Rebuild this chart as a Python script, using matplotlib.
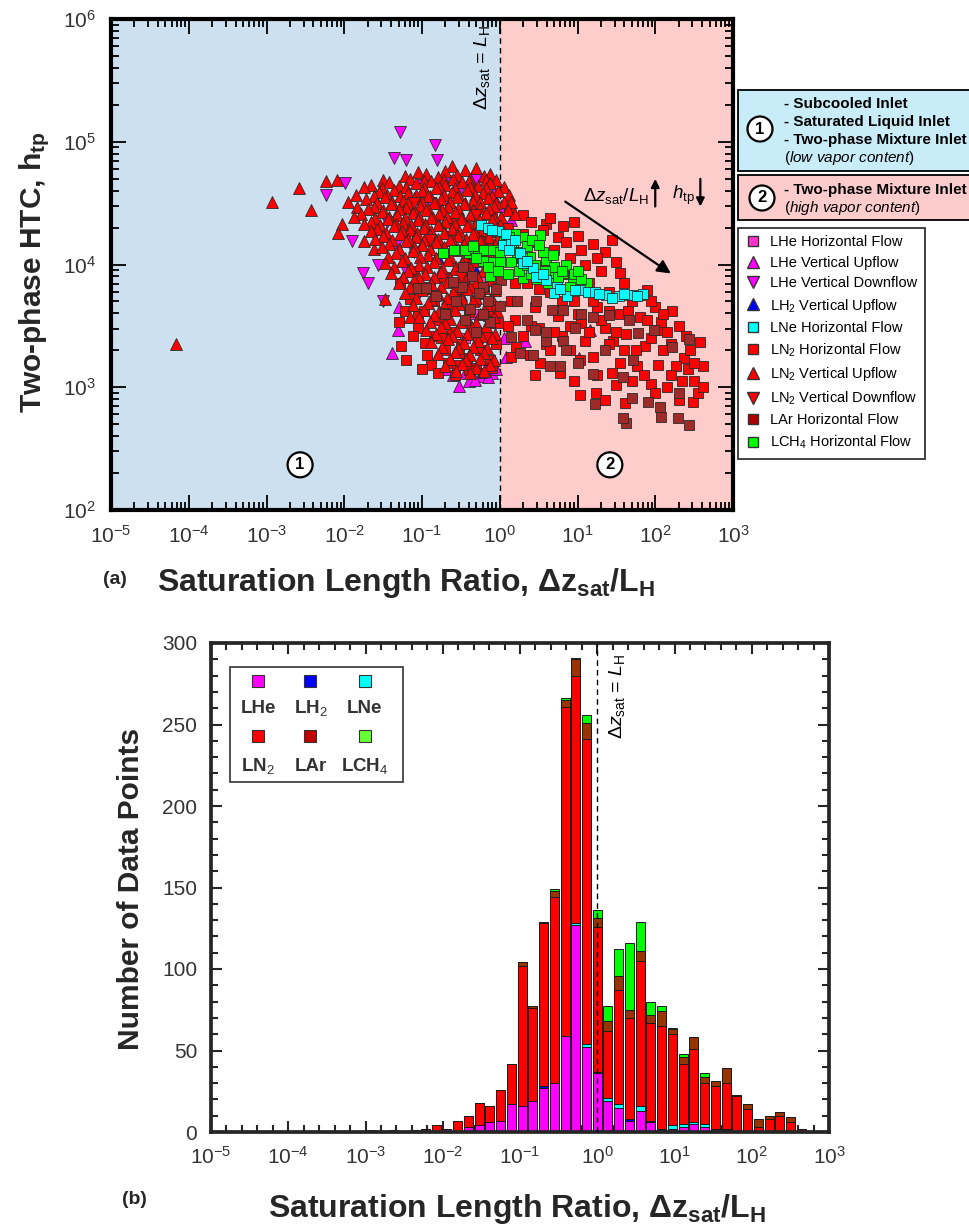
import numpy as np
import matplotlib
matplotlib.use("Agg")
import matplotlib.pyplot as plt
from matplotlib.patches import Rectangle
from matplotlib.lines import Line2D
from matplotlib.ticker import LogLocator, FixedLocator, MultipleLocator, NullFormatter

plt.rcParams['font.family'] = ['Liberation Sans', 'DejaVu Sans']
plt.rcParams['mathtext.fontset'] = 'custom'
plt.rcParams['mathtext.rm'] = 'Liberation Sans'
plt.rcParams['mathtext.it'] = 'Liberation Sans:italic'
plt.rcParams['mathtext.bf'] = 'Liberation Sans:bold'

# ---------------- (a) scatter data, (log10 x, log10 htc) ----------------
lhe_h = [(-0.35, 3.60), (-0.55, 3.85), (-0.20, 3.90), (-0.45, 3.40)]

lhe_up = [(-0.52, 3.01), (-0.40, 3.05), (-0.25, 3.09), (-1.38, 3.28), (-1.31, 3.47),
          (1.16, 3.47), (1.02, 3.24), (0.32, 3.38), (0.15, 4.36), (-0.04, 4.50),
          (-0.17, 3.17), (-0.10, 3.12), (-0.05, 3.15), (-0.60, 3.10), (-0.32, 3.06),
          (-1.30, 3.65), (-1.25, 3.90), (0.02, 4.48), (-0.15, 3.08), (-0.70, 3.15),
          (-0.45, 3.12), (0.08, 3.25), (0.35, 4.05), (-0.08, 4.60), (0.05, 3.40)]

lhe_down = [(-1.28, 5.08), (-0.83, 4.97), (-0.81, 4.85), (-1.36, 4.87), (-1.21, 4.85),
            (-2.23, 4.57), (-1.99, 4.66), (-1.90, 4.19), (-1.76, 3.93), (-1.69, 3.85),
            (-1.57, 4.00), (-1.33, 4.15), (-1.00, 4.65), (-0.70, 4.68), (-0.50, 4.62),
            (-1.45, 4.35), (-1.10, 4.10), (-1.60, 4.25), (-0.30, 4.70), (-0.90, 4.50),
            (-1.20, 3.95), (-1.50, 3.70), (-1.05, 3.75)]

lh2_up = [(-0.50, 3.75), (-0.30, 3.95), (-0.80, 4.05)]

lne_h = [(-0.24, 4.32), (-0.15, 4.30), (-0.04, 4.27), (-0.02, 4.27), (0.04, 4.16),
         (0.15, 4.18), (0.26, 4.09), (0.30, 4.01), (0.43, 3.97), (0.47, 3.90),
         (0.60, 3.87), (0.73, 3.82), (0.70, 3.77), (0.86, 3.74), (1.03, 3.79),
         (1.14, 3.78), (1.23, 3.78), (1.37, 3.75), (1.53, 3.74), (1.68, 3.75),
         (1.84, 3.76), (0.97, 3.79), (0.08, 4.25), (0.12, 4.12), (0.35, 4.03),
         (0.55, 3.92), (0.78, 3.80), (1.28, 3.76), (1.45, 3.73), (1.60, 3.76),
         (1.76, 3.74), (0.20, 4.20), (-0.10, 4.28)]

ln2_h = [(-1.28, 3.85), (-1.30, 3.53), (-1.27, 3.34), (-0.96, 3.36), (-0.67, 3.20),
         (-0.94, 3.26), (-1.15, 3.72), (-1.05, 3.48), (-0.98, 3.62), (-0.85, 3.42),
         (-0.78, 3.55), (-0.70, 3.30), (-0.62, 3.45), (-0.55, 3.18), (-0.50, 3.35),
         (-0.42, 3.24), (-0.36, 3.48), (-0.30, 3.16), (-0.25, 3.30), (-0.18, 3.42),
         (-0.12, 3.22), (-0.05, 3.35), (-0.02, 3.52), (-1.10, 3.95), (-0.90, 3.82),
         (-0.72, 3.90), (-0.58, 3.75), (-0.45, 3.88), (-0.32, 3.70), (-0.20, 3.82),
         (-0.08, 3.65), (-0.88, 3.18), (-0.80, 3.12), (-0.40, 3.14), (-0.58, 3.10),
         (-0.22, 3.12), (-0.10, 3.16), (-1.20, 3.22), (-1.12, 3.42), (-0.35, 4.05),
         (-0.15, 4.15), (-0.05, 3.95), (-0.25, 4.25), (-0.60, 4.35), (-0.10, 4.40),
         (-1.00, 3.15), (-0.75, 3.40), (-0.52, 3.28), (-0.28, 3.40), (-0.15, 3.58),
         (-0.40, 3.62), (-0.65, 3.66), (-0.85, 3.70), (-1.05, 3.60), (-1.22, 3.62),
         (0.12, 4.45), (0.60, 4.33), (0.81, 4.31), (1.00, 4.23), (1.20, 4.17),
         (1.55, 3.93), (1.89, 3.79), (2.21, 3.62), (2.58, 3.37), (2.61, 3.17),
         (2.37, 3.24), (2.27, 3.17), (2.04, 3.18), (2.15, 3.00), (2.31, 2.90),
         (2.49, 2.88), (1.03, 2.94), (1.24, 2.95), (1.61, 2.87), (1.94, 3.03),
         (1.76, 3.17), (1.46, 3.38), (1.63, 3.43), (1.87, 3.34), (2.02, 3.47),
         (2.08, 3.53), (1.80, 3.57), (1.03, 3.22), (0.77, 3.12), (0.52, 3.20),
         (0.21, 3.33), (0.39, 3.26), (0.30, 4.25), (0.45, 4.18), (0.70, 4.12),
         (0.90, 4.05), (1.10, 4.00), (1.30, 3.95), (0.25, 4.05), (0.55, 3.98),
         (0.85, 3.92), (1.15, 3.85), (1.40, 3.78), (1.70, 3.70), (2.00, 3.65),
         (0.35, 3.85), (0.65, 3.78), (0.95, 3.70), (1.25, 3.65), (1.55, 3.60),
         (0.15, 3.70), (0.45, 3.65), (0.75, 3.58), (1.05, 3.52), (1.35, 3.48),
         (0.20, 3.55), (0.50, 3.48), (0.80, 3.42), (1.10, 3.38), (1.60, 3.30),
         (0.30, 3.42), (0.60, 3.35), (0.90, 3.30), (1.20, 3.25), (1.45, 3.12),
         (1.70, 3.05), (2.20, 3.35), (2.40, 3.42), (0.05, 4.20), (0.30, 4.40),
         (0.55, 4.28), (0.75, 4.22), (1.35, 4.10), (1.45, 4.20), (0.95, 4.35),
         (1.25, 3.10), (0.95, 3.05), (2.50, 3.05), (2.42, 3.15), (2.55, 2.95),
         (2.10, 3.30), (1.95, 3.40), (0.10, 4.30), (0.40, 4.35), (0.65, 4.38),
         (0.85, 4.18), (1.05, 4.12), (1.25, 4.05), (1.50, 4.02), (1.60, 3.85),
         (1.80, 3.75), (1.95, 3.70), (2.10, 3.60), (2.30, 3.50), (2.45, 3.30),
         (2.35, 3.05), (2.20, 3.10), (2.00, 2.95), (1.85, 3.10), (1.55, 3.20),
         (1.40, 3.35), (1.15, 3.45), (0.90, 3.50), (0.70, 3.45), (0.40, 3.50),
         (0.10, 3.50), (0.15, 3.25), (0.45, 3.10), (0.65, 3.30), (1.30, 3.55),
         (1.50, 3.45), (1.75, 3.30), (2.15, 3.45), (1.90, 3.55), (1.65, 3.62),
         (1.20, 3.70), (0.80, 3.70), (0.50, 3.80), (0.20, 3.85), (1.00, 3.60),
         (1.40, 3.62), (2.50, 3.20), (2.62, 3.00), (1.35, 2.90), (1.50, 3.02)]

ln2_up = [(-4.16, 3.35), (-2.93, 4.51), (-2.58, 4.62), (-2.43, 4.44), (-2.24, 4.68),
          (-2.09, 4.69), (-2.03, 4.33), (-2.08, 4.26), (-1.84, 4.47), (-1.75, 4.19),
          (-1.62, 4.13), (-1.48, 3.72), (-1.15, 3.57),
          (-0.62, 4.80), (-0.45, 4.77), (-0.30, 4.79),
          (-1.05, 4.75), (-0.70, 4.76), (-0.12, 4.74),
          (-1.22, 4.72), (-0.95, 4.74), (-0.80, 4.71), (-0.55, 4.73), (-0.38, 4.70),
          (-0.20, 4.72), (-0.05, 4.69),
          (-1.50, 4.69), (-1.15, 4.70), (-0.98, 4.68), (-0.72, 4.69), (-0.60, 4.70),
          (-0.40, 4.68), (-0.18, 4.69),
          (-1.65, 4.65), (-1.42, 4.67), (-1.30, 4.64), (-1.08, 4.66), (-0.88, 4.68),
          (-0.70, 4.65), (-0.48, 4.67), (-0.28, 4.64), (-0.12, 4.66),
          (-1.75, 4.63), (-1.52, 4.62), (-1.20, 4.63), (-0.98, 4.62), (-0.78, 4.63),
          (-0.58, 4.62), (-0.38, 4.63), (-0.18, 4.62), (0.05, 4.63),
          (-1.55, 4.59), (-1.36, 4.61), (-1.18, 4.58), (-1.00, 4.60), (-0.82, 4.62),
          (-0.62, 4.59), (-0.42, 4.61), (-0.22, 4.58), (-0.02, 4.60), (0.12, 4.57),
          (-1.85, 4.57), (-1.62, 4.56), (-1.45, 4.57), (-1.28, 4.56), (-1.08, 4.57),
          (-0.90, 4.56), (-0.72, 4.57), (-0.52, 4.56), (-0.32, 4.57), (-0.10, 4.56),
          (-1.72, 4.53), (-1.48, 4.55), (-1.25, 4.52), (-1.10, 4.54), (-0.92, 4.56),
          (-0.75, 4.53), (-0.55, 4.55), (-0.35, 4.52), (-0.15, 4.54), (0.05, 4.51),
          (-1.95, 4.51), (-1.58, 4.50), (-1.38, 4.51), (-1.18, 4.50), (-1.00, 4.51),
          (-0.82, 4.50), (-0.64, 4.51), (-0.45, 4.50), (-0.25, 4.51), (-0.05, 4.50),
          (0.15, 4.51),
          (-1.62, 4.47), (-1.40, 4.49), (-1.20, 4.46), (-1.02, 4.48), (-0.85, 4.50),
          (-0.66, 4.47), (-0.46, 4.49), (-0.26, 4.46), (-0.08, 4.48),
          (-1.70, 4.45), (-1.50, 4.44), (-1.30, 4.45), (-1.10, 4.44), (-0.92, 4.45),
          (-0.74, 4.44), (-0.54, 4.45), (-0.34, 4.44), (-0.14, 4.45), (0.10, 4.44),
          (-1.78, 4.41), (-1.52, 4.43), (-1.32, 4.40), (-1.12, 4.42), (-0.95, 4.44),
          (-0.78, 4.41), (-0.58, 4.43), (-0.38, 4.40), (-0.18, 4.42), (0.02, 4.39),
          (0.20, 4.41),
          (-1.88, 4.39), (-1.60, 4.38), (-1.42, 4.39), (-1.22, 4.38), (-1.04, 4.39),
          (-0.86, 4.38), (-0.68, 4.39), (-0.48, 4.38), (-0.28, 4.39), (-0.08, 4.38),
          (-1.66, 4.35), (-1.44, 4.37), (-1.24, 4.34), (-1.05, 4.36), (-0.88, 4.38),
          (-0.70, 4.35), (-0.50, 4.37), (-0.30, 4.34), (-0.10, 4.36),
          (-1.74, 4.33), (-1.54, 4.32), (-1.34, 4.33), (-1.14, 4.32), (-0.96, 4.33),
          (-0.78, 4.32), (-0.58, 4.33), (-0.40, 4.32), (-0.20, 4.33), (0.00, 4.32),
          (-1.58, 4.29), (-1.36, 4.31), (-1.16, 4.28), (-0.98, 4.30), (-0.80, 4.32),
          (-0.62, 4.29), (-0.42, 4.31), (-0.22, 4.28), (-0.04, 4.30),
          (-1.66, 4.27), (-1.46, 4.26), (-1.26, 4.27), (-1.06, 4.26), (-0.88, 4.27),
          (-0.70, 4.26), (-0.52, 4.27), (-0.32, 4.26), (-0.12, 4.27),
          (-1.50, 4.23), (-1.28, 4.25), (-1.08, 4.22), (-0.90, 4.24), (-0.72, 4.26),
          (-0.54, 4.23), (-0.34, 4.25), (-0.14, 4.22),
          (-1.60, 4.21), (-1.38, 4.20), (-1.18, 4.21), (-0.98, 4.20), (-0.80, 4.21),
          (-0.62, 4.20), (-0.44, 4.21), (-0.24, 4.20), (-0.04, 4.21),
          (-1.42, 4.17), (-1.20, 4.19), (-1.00, 4.16), (-0.82, 4.18), (-0.64, 4.20),
          (-0.46, 4.17), (-0.26, 4.19), (-0.06, 4.16),
          (-1.52, 4.14), (-1.30, 4.13), (-1.10, 4.14), (-0.90, 4.13), (-0.72, 4.14),
          (-0.54, 4.13), (-0.36, 4.14), (-0.16, 4.13),
          (-1.34, 4.09), (-1.12, 4.11), (-0.92, 4.08), (-0.74, 4.10), (-0.56, 4.12),
          (-0.38, 4.09), (-0.18, 4.11),
          (-1.44, 4.06), (-1.22, 4.05), (-1.02, 4.06), (-0.82, 4.05), (-0.64, 4.06),
          (-0.46, 4.05), (-0.26, 4.06), (-0.06, 4.05),
          (-1.48, 4.01), (-1.26, 4.03), (-1.04, 4.00), (-0.84, 4.02), (-0.66, 4.04),
          (-0.48, 4.01), (-0.30, 4.03), (-0.10, 4.00),
          (-1.36, 3.98), (-1.14, 3.97), (-0.94, 3.98), (-0.74, 3.97), (-0.56, 3.98),
          (-0.38, 3.97), (-0.18, 3.98),
          (-1.40, 3.93), (-1.18, 3.95), (-0.96, 3.92), (-0.76, 3.94), (-0.58, 3.96),
          (-0.40, 3.93), (-0.22, 3.95),
          (-1.24, 3.90), (-1.04, 3.89), (-0.84, 3.90), (-0.64, 3.89), (-0.46, 3.90),
          (-0.28, 3.89), (-0.08, 3.90),
          (-1.30, 3.85), (-1.10, 3.87), (-0.88, 3.84), (-0.68, 3.86), (-0.50, 3.88),
          (-0.32, 3.85), (-0.14, 3.87),
          (-1.16, 3.82), (-0.96, 3.81), (-0.76, 3.82), (-0.56, 3.81), (-0.38, 3.82),
          (-0.20, 3.81),
          (-1.22, 3.77), (-1.00, 3.79), (-0.80, 3.76), (-0.60, 3.78), (-0.42, 3.80),
          (-0.24, 3.77), (-0.06, 3.79),
          (-1.08, 3.73), (-0.88, 3.72), (-0.68, 3.73), (-0.48, 3.72), (-0.30, 3.73),
          (-0.10, 3.72),
          (-1.12, 3.67), (-0.92, 3.69), (-0.72, 3.66), (-0.52, 3.68), (-0.34, 3.70),
          (-0.16, 3.67),
          (-0.98, 3.63), (-0.78, 3.62), (-0.58, 3.63), (-0.40, 3.62), (-0.20, 3.63),
          (-0.04, 3.62),
          (-1.04, 3.57), (-0.84, 3.59), (-0.64, 3.56), (-0.44, 3.58), (-0.26, 3.60),
          (-0.08, 3.57),
          (-0.90, 3.53), (-0.70, 3.52), (-0.50, 3.53), (-0.30, 3.52), (-0.12, 3.53),
          (-0.95, 3.47), (-0.75, 3.49), (-0.55, 3.46), (-0.36, 3.48), (-0.18, 3.50),
          (-0.82, 3.43), (-0.62, 3.42), (-0.42, 3.43), (-0.24, 3.42), (-0.06, 3.43),
          (-0.88, 3.37), (-0.66, 3.39), (-0.46, 3.36), (-0.28, 3.38), (-0.10, 3.40),
          (-0.74, 3.33), (-0.54, 3.32), (-0.34, 3.33), (-0.16, 3.32),
          (-0.80, 3.27), (-0.58, 3.29), (-0.38, 3.26), (-0.20, 3.28),
          (-0.64, 3.23), (-0.44, 3.22), (-0.26, 3.23), (-0.08, 3.22),
          (-0.70, 3.17), (-0.48, 3.19), (-0.30, 3.16), (-0.12, 3.18),
          (-0.56, 3.13), (-0.38, 3.12), (-0.20, 3.13)]

ln2_down = [(-0.90, 4.20), (-0.50, 3.90), (-0.30, 4.40), (-1.10, 4.50), (-0.70, 3.60)]

lar_h = [(2.43, 3.39), (2.21, 3.33), (2.43, 2.69), (2.29, 2.75), (2.06, 2.84),
         (2.07, 2.76), (1.91, 2.88), (1.70, 2.91), (1.62, 2.71), (1.59, 2.75),
         (1.23, 2.86), (1.20, 3.11), (1.59, 3.08), (1.71, 3.22), (1.98, 3.47),
         (1.78, 3.44), (1.66, 3.55), (1.41, 3.59), (1.20, 3.57), (1.05, 3.60),
         (0.97, 3.48), (0.81, 3.38), (0.85, 3.30), (0.65, 3.17), (0.77, 3.17),
         (0.60, 3.38), (0.60, 3.45), (0.45, 3.47), (0.26, 3.28), (0.43, 3.26),
         (0.15, 3.41), (0.00, 3.66), (0.02, 3.87), (0.22, 3.70), (0.47, 3.70),
         (0.67, 3.63), (0.81, 3.63), (-0.22, 3.82), (-0.13, 3.53), (-0.47, 3.98),
         (-0.36, 3.91), (-1.05, 3.81), (-0.95, 3.81), (-0.82, 3.74), (-0.56, 3.70),
         (-0.38, 3.64), (-0.22, 3.60), (-0.27, 3.77), (-0.49, 3.82), (-0.60, 3.86),
         (-0.70, 3.60), (-0.45, 3.55), (-0.30, 3.45), (-0.15, 3.70), (-0.05, 3.80),
         (0.35, 3.55), (1.00, 3.20), (1.35, 3.30), (2.30, 2.95)]

lch4_h = [(-0.73, 4.09), (-0.59, 4.12), (-0.40, 4.09), (-0.28, 4.12), (-0.20, 4.12),
          (-0.22, 4.03), (-0.09, 4.02), (-0.13, 3.91), (0.30, 4.22), (0.52, 4.24),
          (0.17, 4.14), (-0.09, 4.12), (0.00, 4.02), (0.15, 4.02), (0.39, 4.06),
          (0.60, 4.04), (0.65, 3.93), (0.81, 3.93), (0.94, 3.87), (1.12, 3.85),
          (0.30, 3.89), (0.43, 3.93), (0.05, 4.18), (0.22, 4.10), (0.35, 4.15),
          (0.45, 4.00), (0.55, 4.10), (0.70, 3.98), (0.85, 4.00), (0.75, 3.90),
          (0.95, 3.92), (1.05, 3.88), (0.62, 3.85), (0.40, 3.92), (0.25, 3.95),
          (0.10, 3.92), (-0.02, 3.95), (-0.30, 4.05), (-0.45, 4.12), (0.42, 4.20),
          (0.20, 4.25), (0.00, 4.10), (0.12, 4.22), (0.28, 4.05), (0.50, 4.16),
          (0.58, 3.95), (0.68, 4.08), (0.80, 3.95), (0.90, 3.82), (1.00, 3.95),
          (0.35, 4.00), (-0.15, 3.98), (-0.35, 4.15), (0.48, 3.88)]

# ---------------- (b) histogram data ----------------
bin_width = 0.139                               # bin width in decades
bin_index = np.arange(-21, 21)                  # bin 0 is centred on 10^0
hist_lhe = [0, 0, 0, 0, 0, 0, 0, 2, 0, 3, 4, 6, 7, 17, 16, 19, 27, 30, 59, 127, 52,
            36, 19, 15, 7, 13, 6, 1, 2, 3, 5, 3, 1, 1, 0, 0, 0, 0, 0, 0, 0, 0]
hist_lh2 = [0, 0, 0, 0, 0, 0, 0, 0, 0, 0, 0, 0, 0, 0, 0, 0, 1, 0, 0, 0, 0,
            0, 0, 0, 1, 0, 0, 0, 0, 0, 0, 0, 0, 0, 0, 0, 0, 0, 0, 0, 0, 0]
hist_lne = [0, 0, 0, 0, 0, 0, 0, 0, 0, 0, 0, 0, 0, 0, 0, 0, 0, 0, 0, 1, 2,
            1, 2, 2, 0, 3, 1, 1, 2, 2, 1, 2, 1, 1, 0, 0, 0, 0, 0, 0, 0, 0]
hist_ln2 = [1, 0, 1, 0, 1, 2, 4, 0, 7, 7, 14, 10, 19, 25, 86, 57, 100, 114, 202, 152, 187,
            89, 41, 70, 62, 89, 60, 63, 56, 37, 45, 25, 26, 28, 22, 14, 3, 8, 10, 6, 2, 0]
hist_lar = [0, 0, 0, 0, 0, 0, 0, 0, 0, 0, 0, 0, 0, 0, 2, 1, 0, 4, 4, 10, 10,
            5, 6, 9, 5, 6, 5, 9, 3, 4, 7, 4, 3, 9, 1, 3, 5, 2, 2, 3, 0, 0]
hist_lch4 = [0, 0, 0, 0, 0, 0, 0, 0, 0, 0, 0, 0, 0, 0, 0, 0, 1, 1, 1, 1, 5,
             5, 9, 16, 41, 18, 8, 3, 1, 2, 0, 2, 0, 0, 0, 0, 0, 0, 0, 0, 0, 0]

W, H = 969, 1225
fig = plt.figure(figsize=(W / 100, H / 100), dpi=100)


def fx(px):
    return px / W


def fy(py):
    return 1 - py / H


# ======================= panel (a) =======================
ax1 = fig.add_axes([fx(111), fy(510), fx(733) - fx(111), fy(19) - fy(510)])
ax1.set_xscale('log')
ax1.set_yscale('log')
ax1.set_xlim(1e-5, 1e3)
ax1.set_ylim(1e2, 1e6)
ax1.axvspan(1e-5, 1, color='#cce0f0', zorder=0, lw=0)
ax1.axvspan(1, 1e3, color='#ffcccc', zorder=0, lw=0)
ax1.axvline(1, color='k', ls=(0, (4, 3)), lw=1.0, zorder=1)

series = [
    (lhe_h, 's', '#ff33cc', 7),
    (lhe_up, '^', '#ff00ff', 8.5),
    (lhe_down, 'v', '#ff00ff', 8.5),
    (lh2_up, '^', '#0000ff', 8.5),
    (ln2_h, 's', '#ff0000', 7),
    (ln2_up, '^', '#ff0000', 8.5),
    (ln2_down, 'v', '#ff0000', 8.5),
    (lar_h, 's', '#9e2a2a', 7),
    (lch4_h, 's', '#00ff00', 7),
    (lne_h, 's', '#00ffff', 7),
]
for pts, mk, col, ms in series:
    lx, ly = zip(*pts)
    ax1.plot(10 ** np.array(lx), 10 ** np.array(ly), ls='none', marker=mk, ms=ms,
             mfc=col, mec='#2a2a2a', mew=0.6, zorder=3)

ax1.xaxis.set_major_locator(LogLocator(base=10, numticks=20))
ax1.xaxis.set_minor_locator(LogLocator(base=10, subs=np.arange(2, 10), numticks=20))
ax1.xaxis.set_minor_formatter(NullFormatter())
ax1.yaxis.set_minor_locator(LogLocator(base=10, subs=np.arange(2, 10), numticks=20))
ax1.yaxis.set_minor_formatter(NullFormatter())
ax1.tick_params(which='both', direction='in', top=True, right=True, labelsize=15,
                labelcolor='#333333', width=1.3)
ax1.tick_params(which='major', length=11, pad=11)
ax1.tick_params(which='minor', length=6)
for s in ax1.spines.values():
    s.set_linewidth(3)

ax1.set_xlabel(r'Saturation Length Ratio, $\mathbf{\Delta z_{sat}/L_H}$',
               fontsize=23, fontweight='bold', color='#262626')
ax1.xaxis.set_label_coords(0.475, -0.115)
ax1.set_ylabel(r'Two-phase HTC, $\mathbf{h_{tp}}$', fontsize=21.5, fontweight='bold',
               color='#262626')
ax1.yaxis.set_label_coords(-0.095, 0.484)

ax1.text(10 ** -0.23, 10 ** 5.61, r'$\Delta z_{\rm sat}$ = $L_{\rm H}$', rotation=90,
         ha='center', va='center', fontsize=14)
ax1.annotate('', xy=(170, 8.2e3), xytext=(6.5, 3.35e4),
             arrowprops=dict(arrowstyle='-|>', color='k', lw=1.6, mutation_scale=20))
ax1.text(10 ** 1.07, 10 ** 4.56, r'$\Delta z_{\rm sat}/L_{\rm H}$', fontsize=13.5,
         va='center', ha='left')
ax1.annotate('', xy=(10 ** 2.0, 10 ** 4.72), xytext=(10 ** 2.0, 10 ** 4.45),
             arrowprops=dict(arrowstyle='-|>', color='k', lw=1.6, mutation_scale=12))
ax1.text(10 ** 2.22, 10 ** 4.56, r'$h_{\rm tp}$', fontsize=13.5, va='center', ha='left')
ax1.annotate('', xy=(10 ** 2.58, 10 ** 4.45), xytext=(10 ** 2.58, 10 ** 4.72),
             arrowprops=dict(arrowstyle='-|>', color='k', lw=1.6, mutation_scale=12))

circ = dict(boxstyle='circle,pad=0.3', fc='white', ec='k', lw=1.6)
ax1.text(0.304, 0.092, '1', transform=ax1.transAxes, ha='center', va='center',
         fontsize=12, fontweight='bold', bbox=circ)
ax1.text(0.802, 0.092, '2', transform=ax1.transAxes, ha='center', va='center',
         fontsize=12, fontweight='bold', bbox=circ)

# regime boxes to the right of panel (a)
fig.patches.append(Rectangle((fx(738), fy(171)), fx(990) - fx(738), fy(90) - fy(171),
                             transform=fig.transFigure, fc='#c8ecf8', ec='k', lw=1.3))
fig.patches.append(Rectangle((fx(738), fy(220)), fx(990) - fx(738), fy(175) - fy(220),
                             transform=fig.transFigure, fc='#fccccc', ec='k', lw=1.3))
fig.text(fx(760), fy(129), '1', ha='center', va='center', fontsize=12,
         fontweight='bold', bbox=circ)
fig.text(fx(762), fy(198), '2', ha='center', va='center', fontsize=12,
         fontweight='bold', bbox=circ)
for yy, txt in [(104, '- Subcooled Inlet'), (122, '- Saturated Liquid Inlet'),
                (140, '- Two-phase Mixture Inlet'), (190, '- Two-phase Mixture Inlet')]:
    fig.text(fx(784), fy(yy), txt, ha='left', va='center', fontsize=11, fontweight='bold')
fig.text(fx(784), fy(158), r'($\it{low\ vapor\ content}$)', ha='left', va='center',
         fontsize=11)
fig.text(fx(784), fy(208), r'($\it{high\ vapor\ content}$)', ha='left', va='center',
         fontsize=11)

handles = [
    Line2D([], [], ls='none', marker='s', ms=7, mfc='#ff33cc', mec='#333', label='LHe Horizontal Flow'),
    Line2D([], [], ls='none', marker='^', ms=8, mfc='#ff00ff', mec='#333', label='LHe Vertical Upflow'),
    Line2D([], [], ls='none', marker='v', ms=8, mfc='#ff00ff', mec='#333', label='LHe Vertical Downflow'),
    Line2D([], [], ls='none', marker='^', ms=8, mfc='#0000ff', mec='#333', label=r'LH$_2$ Vertical Upflow'),
    Line2D([], [], ls='none', marker='s', ms=7, mfc='#00ffff', mec='#333', label='LNe Horizontal Flow'),
    Line2D([], [], ls='none', marker='s', ms=7, mfc='#ff0000', mec='#333', label=r'LN$_2$ Horizontal Flow'),
    Line2D([], [], ls='none', marker='^', ms=8, mfc='#ff0000', mec='#333', label=r'LN$_2$ Vertical Upflow'),
    Line2D([], [], ls='none', marker='v', ms=8, mfc='#ff0000', mec='#333', label=r'LN$_2$ Vertical Downflow'),
    Line2D([], [], ls='none', marker='s', ms=7, mfc='#b00000', mec='#333', label='LAr Horizontal Flow'),
    Line2D([], [], ls='none', marker='s', ms=7, mfc='#00ff00', mec='#333', label=r'LCH$_4$ Horizontal Flow'),
]
leg = fig.legend(handles=handles, loc='upper left', bbox_to_anchor=(fx(738), fy(228)),
                 frameon=True, fancybox=False, edgecolor='k', fontsize=10.5,
                 handlelength=1.0, handletextpad=0.7, labelspacing=0.44,
                 borderpad=0.5, borderaxespad=0)
leg.get_frame().set_linewidth(1.3)

fig.text(fx(115), fy(580), '(a)', ha='center', va='center', fontsize=14, fontweight='bold',
         color='#262626')

# ======================= panel (b) =======================
ax2 = fig.add_axes([fx(211), fy(1132), fx(829) - fx(211), fy(643) - fy(1132)])
ax2.set_xscale('log')
ax2.set_xlim(1e-5, 1e3)
ax2.set_ylim(0, 300)

centres = bin_index * bin_width
left = 10 ** (centres - 0.42 * bin_width)
widths = 10 ** (centres + 0.42 * bin_width) - left
bottom = np.zeros(len(centres))
stack = [(hist_lhe, '#ff00ff'), (hist_lh2, '#0000ff'), (hist_lne, '#00ffff'),
         (hist_ln2, '#ff0000'), (hist_lar, '#993300'), (hist_lch4, '#00ff00')]
for counts, col in stack:
    counts = np.array(counts, dtype=float)
    ax2.bar(left, counts, width=widths, bottom=bottom, align='edge', color=col,
            edgecolor='#1a1a1a', linewidth=0.7, zorder=2)
    bottom += counts

ax2.axvline(1, color='k', ls=(0, (4, 3)), lw=1.0, zorder=3)
ax2.text(10 ** 0.256, 267, r'$\Delta z_{\rm sat}$ = $L_{\rm H}$', rotation=90,
         ha='center', va='center', fontsize=14)

ax2.xaxis.set_major_locator(LogLocator(base=10, numticks=20))
ax2.xaxis.set_minor_locator(FixedLocator([10 ** (k + 0.2 * j) for k in range(-5, 3)
                                          for j in range(1, 5)]))
ax2.xaxis.set_minor_formatter(NullFormatter())
ax2.yaxis.set_major_locator(MultipleLocator(50))
ax2.yaxis.set_minor_locator(MultipleLocator(10))
ax2.tick_params(which='both', direction='in', top=True, right=True, labelsize=15,
                labelcolor='#333333', color='#262626', width=1.5)
ax2.tick_params(which='major', length=8, pad=10)
ax2.tick_params(which='minor', length=5)
for s in ax2.spines.values():
    s.set_linewidth(2.7)
    s.set_color('#262626')

ax2.set_xlabel(r'Saturation Length Ratio, $\mathbf{\Delta z_{sat}/L_H}$',
               fontsize=23, fontweight='bold', color='#262626')
ax2.xaxis.set_label_coords(0.496, -0.122)
ax2.set_ylabel('Number of Data Points', fontsize=21.5, fontweight='bold', color='#262626')
ax2.yaxis.set_label_coords(-0.107, 0.497)

# legend of panel (b): marker above label
ax2.add_patch(Rectangle((0.031, 0.716), 0.28, 0.235, transform=ax2.transAxes,
                        fc='white', ec='#333333', lw=1.2, zorder=5))
leg_items = [('LHe', '#ff00ff'), (r'LH$_2$', '#0000ff'), ('LNe', '#00ffff'),
             (r'LN$_2$', '#ff0000'), ('LAr', '#c00000'), (r'LCH$_4$', '#66ff33')]
cols = [0.076, 0.161, 0.249]
rows = [(0.922, 0.867), (0.809, 0.748)]
for i, (name, col) in enumerate(leg_items):
    xm = cols[i % 3]
    ym, yt = rows[i // 3]
    ax2.plot([xm], [ym], transform=ax2.transAxes, ls='none', marker='s', ms=8,
             mfc=col, mec='#333333', mew=0.8, zorder=6, clip_on=False)
    ax2.text(xm, yt, name, transform=ax2.transAxes, ha='center', va='center',
             fontsize=13.5, fontweight='bold', color='#333333', zorder=6)

fig.text(fx(134), fy(1200), '(b)', ha='center', va='center', fontsize=14, fontweight='bold',
         color='#262626')

fig.savefig('out.png', dpi=100)
